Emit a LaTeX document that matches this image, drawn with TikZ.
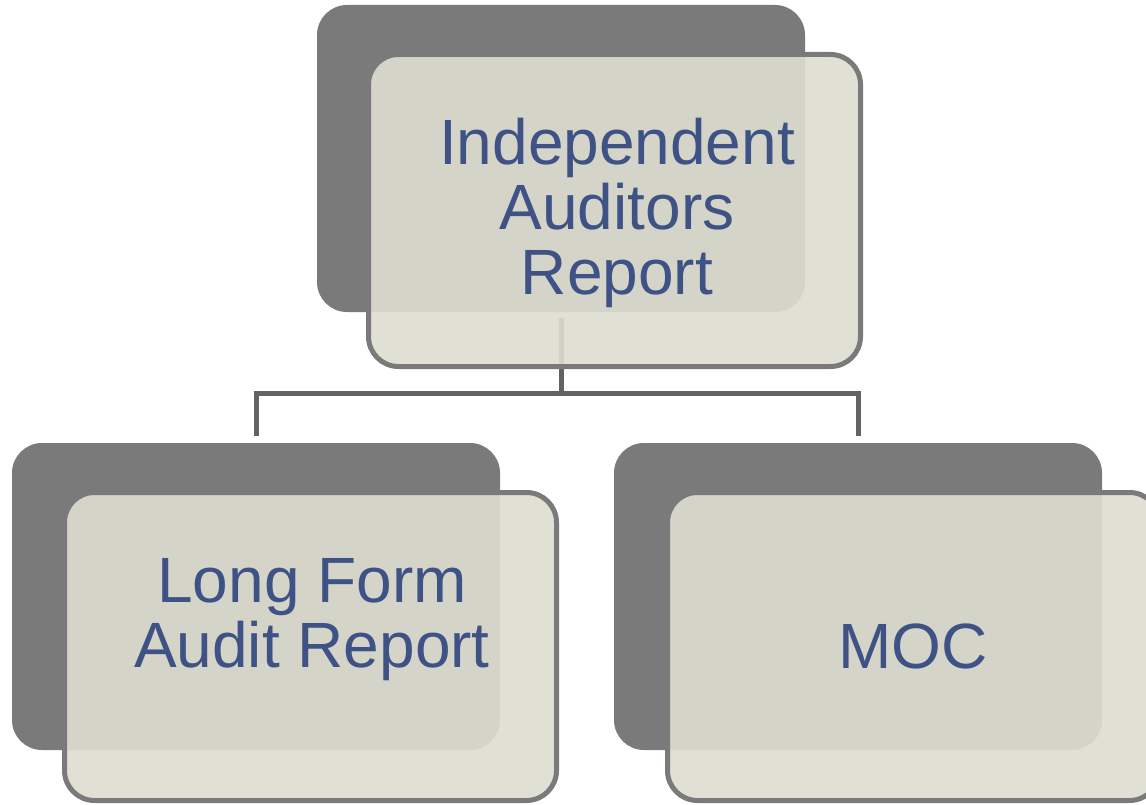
\documentclass[tikz,border=0pt]{standalone}
\usepackage{fontspec}
\setmainfont{Liberation Sans}
\definecolor{darkbox}{RGB}{122,122,122}
\definecolor{lightfill}{RGB}{221,221,208}
\definecolor{lightedge}{RGB}{122,122,122}
\definecolor{conncol}{RGB}{99,99,99}
\definecolor{txtblue}{RGB}{62,82,133}
\begin{document}
\begin{tikzpicture}[x=1pt,y=-1pt,
  backbox/.style={fill=darkbox, rounded corners=30pt, minimum width=488pt, minimum height=307pt, anchor=north west, inner sep=0pt, outer sep=0pt},
  frontbox/.style={draw=lightedge, line width=5pt, fill=lightfill, fill opacity=0.91, rounded corners=30pt, minimum width=492pt, minimum height=312pt, anchor=north west, inner sep=0pt, outer sep=0pt},
  boxtext/.style={text=txtblue, font=\fontsize{64pt}{65pt}\selectfont, align=center, inner sep=0pt},
  conn/.style={draw=conncol, line width=5pt}]
\useasboundingbox (0,0) rectangle (1146,805);
% back (dark) boxes
\node[backbox] (Tback) at (317,5) {};
\node[backbox] (Lback) at (12,443) {};
\node[backbox] (Rback) at (614,443) {};
% connectors
\coordinate (bar) at (560,393);
\draw[conn] ([yshift=-6pt]Tback.south) -- (Tback.south |- bar);
\draw[conn] ([yshift=7pt]Lback.north) |- (Tback.south |- bar) -| ([yshift=7pt]Rback.north);
% front (light) boxes
\node[frontbox] (Tfront) at (368.5,54.5) {};
\node[frontbox, minimum height=308pt] (Lfront) at (64.5,492.5) {};
\node[frontbox, minimum height=308pt] (Rfront) at (667.5,492.5) {};
% texts
\node[boxtext] (Ttext) at (617,213) {Independent\\Auditors\\Report};
\node[boxtext] (Ltext) at (312,620) {Long Form\\Audit Report};
\node[boxtext] (Rtext) at (913,646) {MOC};
\end{tikzpicture}
\end{document}
